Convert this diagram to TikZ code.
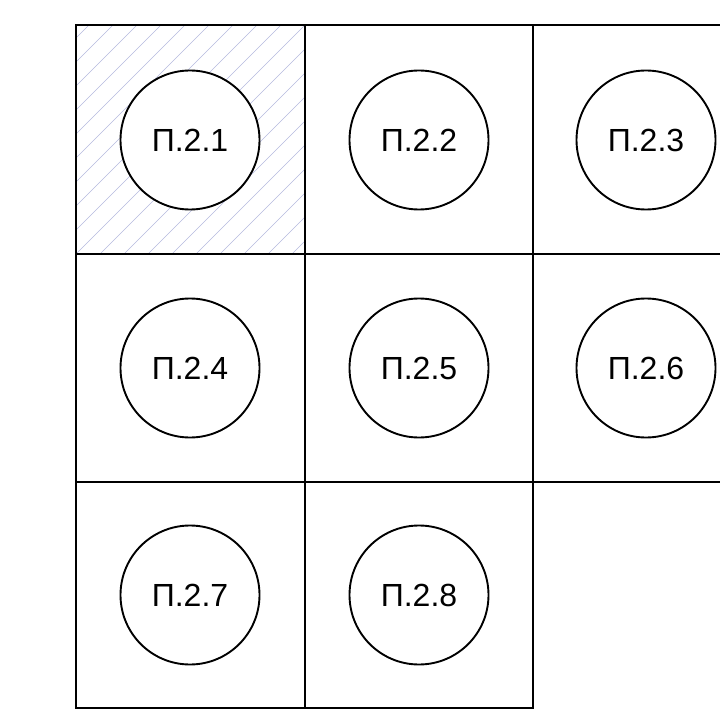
\documentclass[tikz,border=0pt]{standalone}
\usepackage{fontspec}
\setmainfont{Liberation Sans}
\definecolor{hatchblue}{RGB}{180,186,222}

\begin{document}
\begin{tikzpicture}[x=1pt,y=-1pt,
        spot/.style={draw, circle, line width=1.9pt, minimum size=139pt, inner sep=0pt, font=\fontsize{32}{38}\selectfont},
        wall/.style={line width=2pt, line cap=rect},
        hatch/.style={hatchblue, line width=0.6pt}
      ]
        \useasboundingbox (0,0) rectangle (720,714);
        % hatched first cell
        \begin{scope}
          \clip (76,25) rectangle (305,254);
          \foreach \k in {-240,-216,...,240} \draw[hatch] (76+\k,254) -- ++(240,-240);
        \end{scope}
        % cell walls
        \draw[wall] (76,25) -- (720,25);
        \draw[wall] (76,254) -- (720,254);
        \draw[wall] (76,482) -- (720,482);
        \draw[wall] (76,708) -- (533,708);
        \draw[wall] (76,25) -- (76,708);
        \draw[wall] (305,25) -- (305,708);
        \draw[wall] (533,25) -- (533,708);
        % circles
        \foreach \n/\x/\y in {1/190/140, 2/419/140, 3/646/140, 4/190/368, 5/419/368, 6/646/368, 7/190/595, 8/419/595}
          \node[spot, fill=white] (p\n) at (\x,\y) {П.2.\n};
      \end{tikzpicture}
\end{document}
